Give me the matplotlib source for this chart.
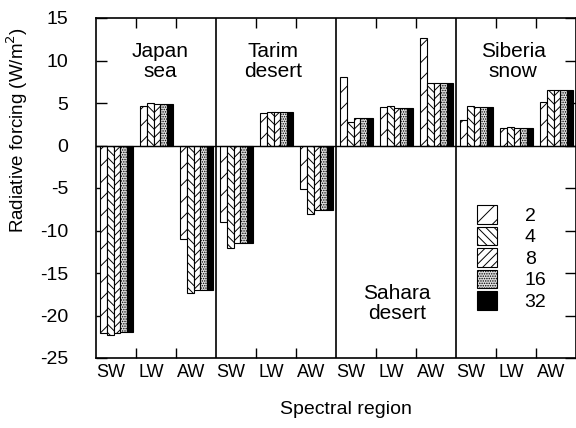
import numpy as np
import matplotlib
matplotlib.use('Agg')
import matplotlib.pyplot as plt

plt.rcParams['font.family'] = ['Liberation Sans', 'DejaVu Sans']
plt.rcParams['hatch.linewidth'] = 0.7

REGIONS = ['Japan\nsea', 'Tarim\ndesert', 'Sahara\ndesert', 'Siberia\nsnow']
BANDS = ['SW', 'LW', 'AW']
RESOLUTIONS = ['2', '4', '8', '16', '32']

# Forcing (W/m^2) for each region x band, one list per resolution
res2 = [-22.1, 4.7, -11.0, -9.0, 3.85, -5.1, 8.1, 4.5, 12.6, 3.0, 2.05, 5.1]
res4 = [-22.3, 5.0, -17.3, -12.0, 4.0, -8.0, 2.8, 4.6, 7.35, 4.6, 2.15, 6.55]
res8 = [-22.0, 4.9, -17.0, -11.5, 3.95, -7.6, 3.2, 4.4, 7.35, 4.5, 2.05, 6.55]
res16 = [-21.9, 4.9, -17.0, -11.5, 3.9, -7.6, 3.2, 4.4, 7.4, 4.5, 2.05, 6.55]
res32 = [-21.9, 4.9, -17.0, -11.5, 3.9, -7.6, 3.2, 4.4, 7.4, 4.5, 2.05, 6.55]
series = [res2, res4, res8, res16, res32]

HATCHES = ['//', '\\\\\\\\', '////', '.......', None]
FACES = ['white', 'white', 'white', '#e0e0e0', 'black']

fig = plt.figure(figsize=(5.76, 4.28), dpi=100)
ax = fig.add_axes([96 / 576, 70 / 428, 480 / 576, 340 / 428])

ngroups = len(BANDS) * len(REGIONS)
x = np.arange(ngroups)
width = 0.165
start = 0.11
for k, vals in enumerate(series):
    ax.bar(x + start + k * width, vals, width, align='edge',
           facecolor=FACES[k], edgecolor='black', linewidth=0.8,
           hatch=HATCHES[k], label=RESOLUTIONS[k], zorder=2)

ax.axhline(0, color='black', linewidth=1.0, zorder=3)
for p in range(1, len(REGIONS)):
    ax.axvline(p * len(BANDS), color='black', linewidth=1.2, zorder=3)

ax.set_xlim(0, ngroups)
ax.set_ylim(-25, 15)

# group boundary ticks, band labels in between
bounds = [i for i in range(1, ngroups) if i % len(BANDS) != 0]
ax.set_xticks(bounds)
ax.set_xticklabels([])
ax.set_xticks(x + 0.38, minor=True)
ax.set_xticklabels(BANDS * len(REGIONS), minor=True, fontsize=13)
ax.tick_params(axis='x', which='major', direction='in', length=7.5,
               top=True, bottom=True, width=1.0)
ax.tick_params(axis='x', which='minor', length=0, pad=4.5)

ax.set_yticks(np.arange(-25, 16, 5))
ax.set_yticklabels([str(v) for v in range(-25, 16, 5)])
ax.tick_params(axis='y', direction='in', length=8, width=1.0,
               left=True, right=True, pad=20, labelsize=14)

for s in ax.spines.values():
    s.set_linewidth(1.2)

ax.set_xlabel('Spectral region', fontsize=14)
ax.xaxis.set_label_coords(0.52, -0.125)
ax.set_ylabel('Radiative forcing (W/m$^2$)', fontsize=13.5)
ax.yaxis.set_label_coords(-0.138, 0.67)

# region names
name_pos = [(1.6, 9.9), (4.43, 9.9), (7.52, -18.6), (10.43, 9.9)]
for name, (tx, ty) in zip(REGIONS, name_pos):
    ax.text(tx, ty, name, ha='center', va='center', fontsize=15,
            linespacing=1.05)

ax.legend(loc='upper left', bbox_to_anchor=(477 / 576, 1 - 205 / 428),
          bbox_transform=fig.transFigure, frameon=False, fontsize=14,
          handlelength=1.05, handleheight=1.1, labelspacing=0.08,
          handletextpad=1.4, borderpad=0, borderaxespad=0)

fig.savefig('out.png', dpi=100)
